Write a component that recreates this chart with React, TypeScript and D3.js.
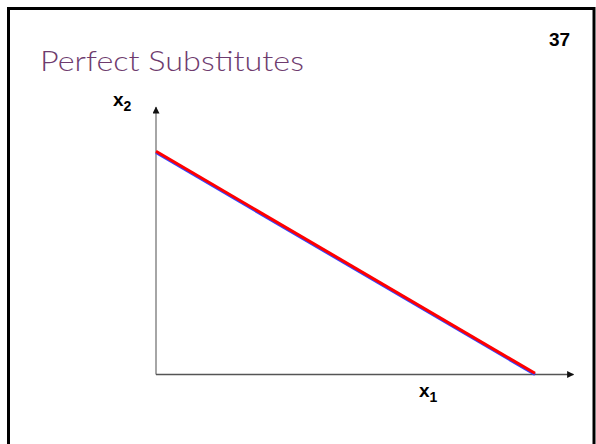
import React from "react";
import * as d3 from "d3";

// Indifference curve for perfect substitutes: x1 + x2 = 10
const x1Values = [0, 10];
const x2Values = [10, 0];
const axisMax = { x1: 11, x2: 12 };
const title = "Perfect Substitutes";
const pageNumber = "37";

export default function App() {
  const W = 596;
  const H = 444;
  const x = d3.scaleLinear().domain([0, 10]).range([156, 535]);
  const y = d3.scaleLinear().domain([0, 10]).range([374.5, 152.5]);

  const pts = x1Values.map((v, i) => [v, x2Values[i]] as [number, number]);
  const line = d3
    .line<[number, number]>()
    .x((d) => x(d[0]))
    .y((d) => y(d[1]));
  const path = line(pts) || "";

  const x0 = x(0);
  const y0 = y(0);
  const xEnd = x(axisMax.x1) + 0.5;
  const yEnd = y(axisMax.x2) - 1;

  return (
    <svg
      width={W}
      height={H}
      style={{ position: "absolute", left: 0, top: 0, background: "#fff" }}
    >
      <defs>
        <marker
          id="arrow"
          viewBox="0 0 10 10"
          refX="9"
          refY="5"
          markerWidth="9"
          markerHeight="7"
          markerUnits="userSpaceOnUse"
          orient="auto"
        >
          <path d="M0,0 L10,5 L0,10 Z" fill="#111" />
        </marker>
      </defs>
      {/* slide frame */}
      <rect x={8.5} y={8.5} width={585.5} height={460} fill="none" stroke="#000" strokeWidth={3} />

      <text
        x={40}
        y={71}
        fill="#6e3b6e"
        fontFamily="Lato, 'Open Sans', sans-serif"
        fontWeight={300}
        fontSize={28}
        textLength={264}
        lengthAdjust="spacingAndGlyphs"
      >
        {title}
      </text>
      <text
        x={549}
        y={46}
        fill="#000"
        fontFamily="'Liberation Sans', Arial, sans-serif"
        fontWeight="bold"
        fontSize={19}
      >
        {pageNumber}
      </text>

      {/* axes */}
      <line x1={x0} y1={y0} x2={x0} y2={yEnd} stroke="#888" strokeWidth={1.5} markerEnd="url(#arrow)" />
      <line x1={x0} y1={y0} x2={xEnd} y2={y0} stroke="#555" strokeWidth={1.5} markerEnd="url(#arrow)" />

      <text x={113} y={106} fontFamily="'Liberation Sans', Arial, sans-serif" fontWeight="bold" fontSize={19}>
        x<tspan fontSize={14} dy={5}>2</tspan>
      </text>
      <text x={419} y={397} fontFamily="'Liberation Sans', Arial, sans-serif" fontWeight="bold" fontSize={19}>
        x<tspan fontSize={14} dy={5}>1</tspan>
      </text>

      {/* indifference line */}
      <path d={path} fill="none" stroke="#3344ff" strokeWidth={3} />
      <path d={path} fill="none" stroke="#ff0000" strokeWidth={3} transform="translate(0,-1.2)" />
    </svg>
  );
}
